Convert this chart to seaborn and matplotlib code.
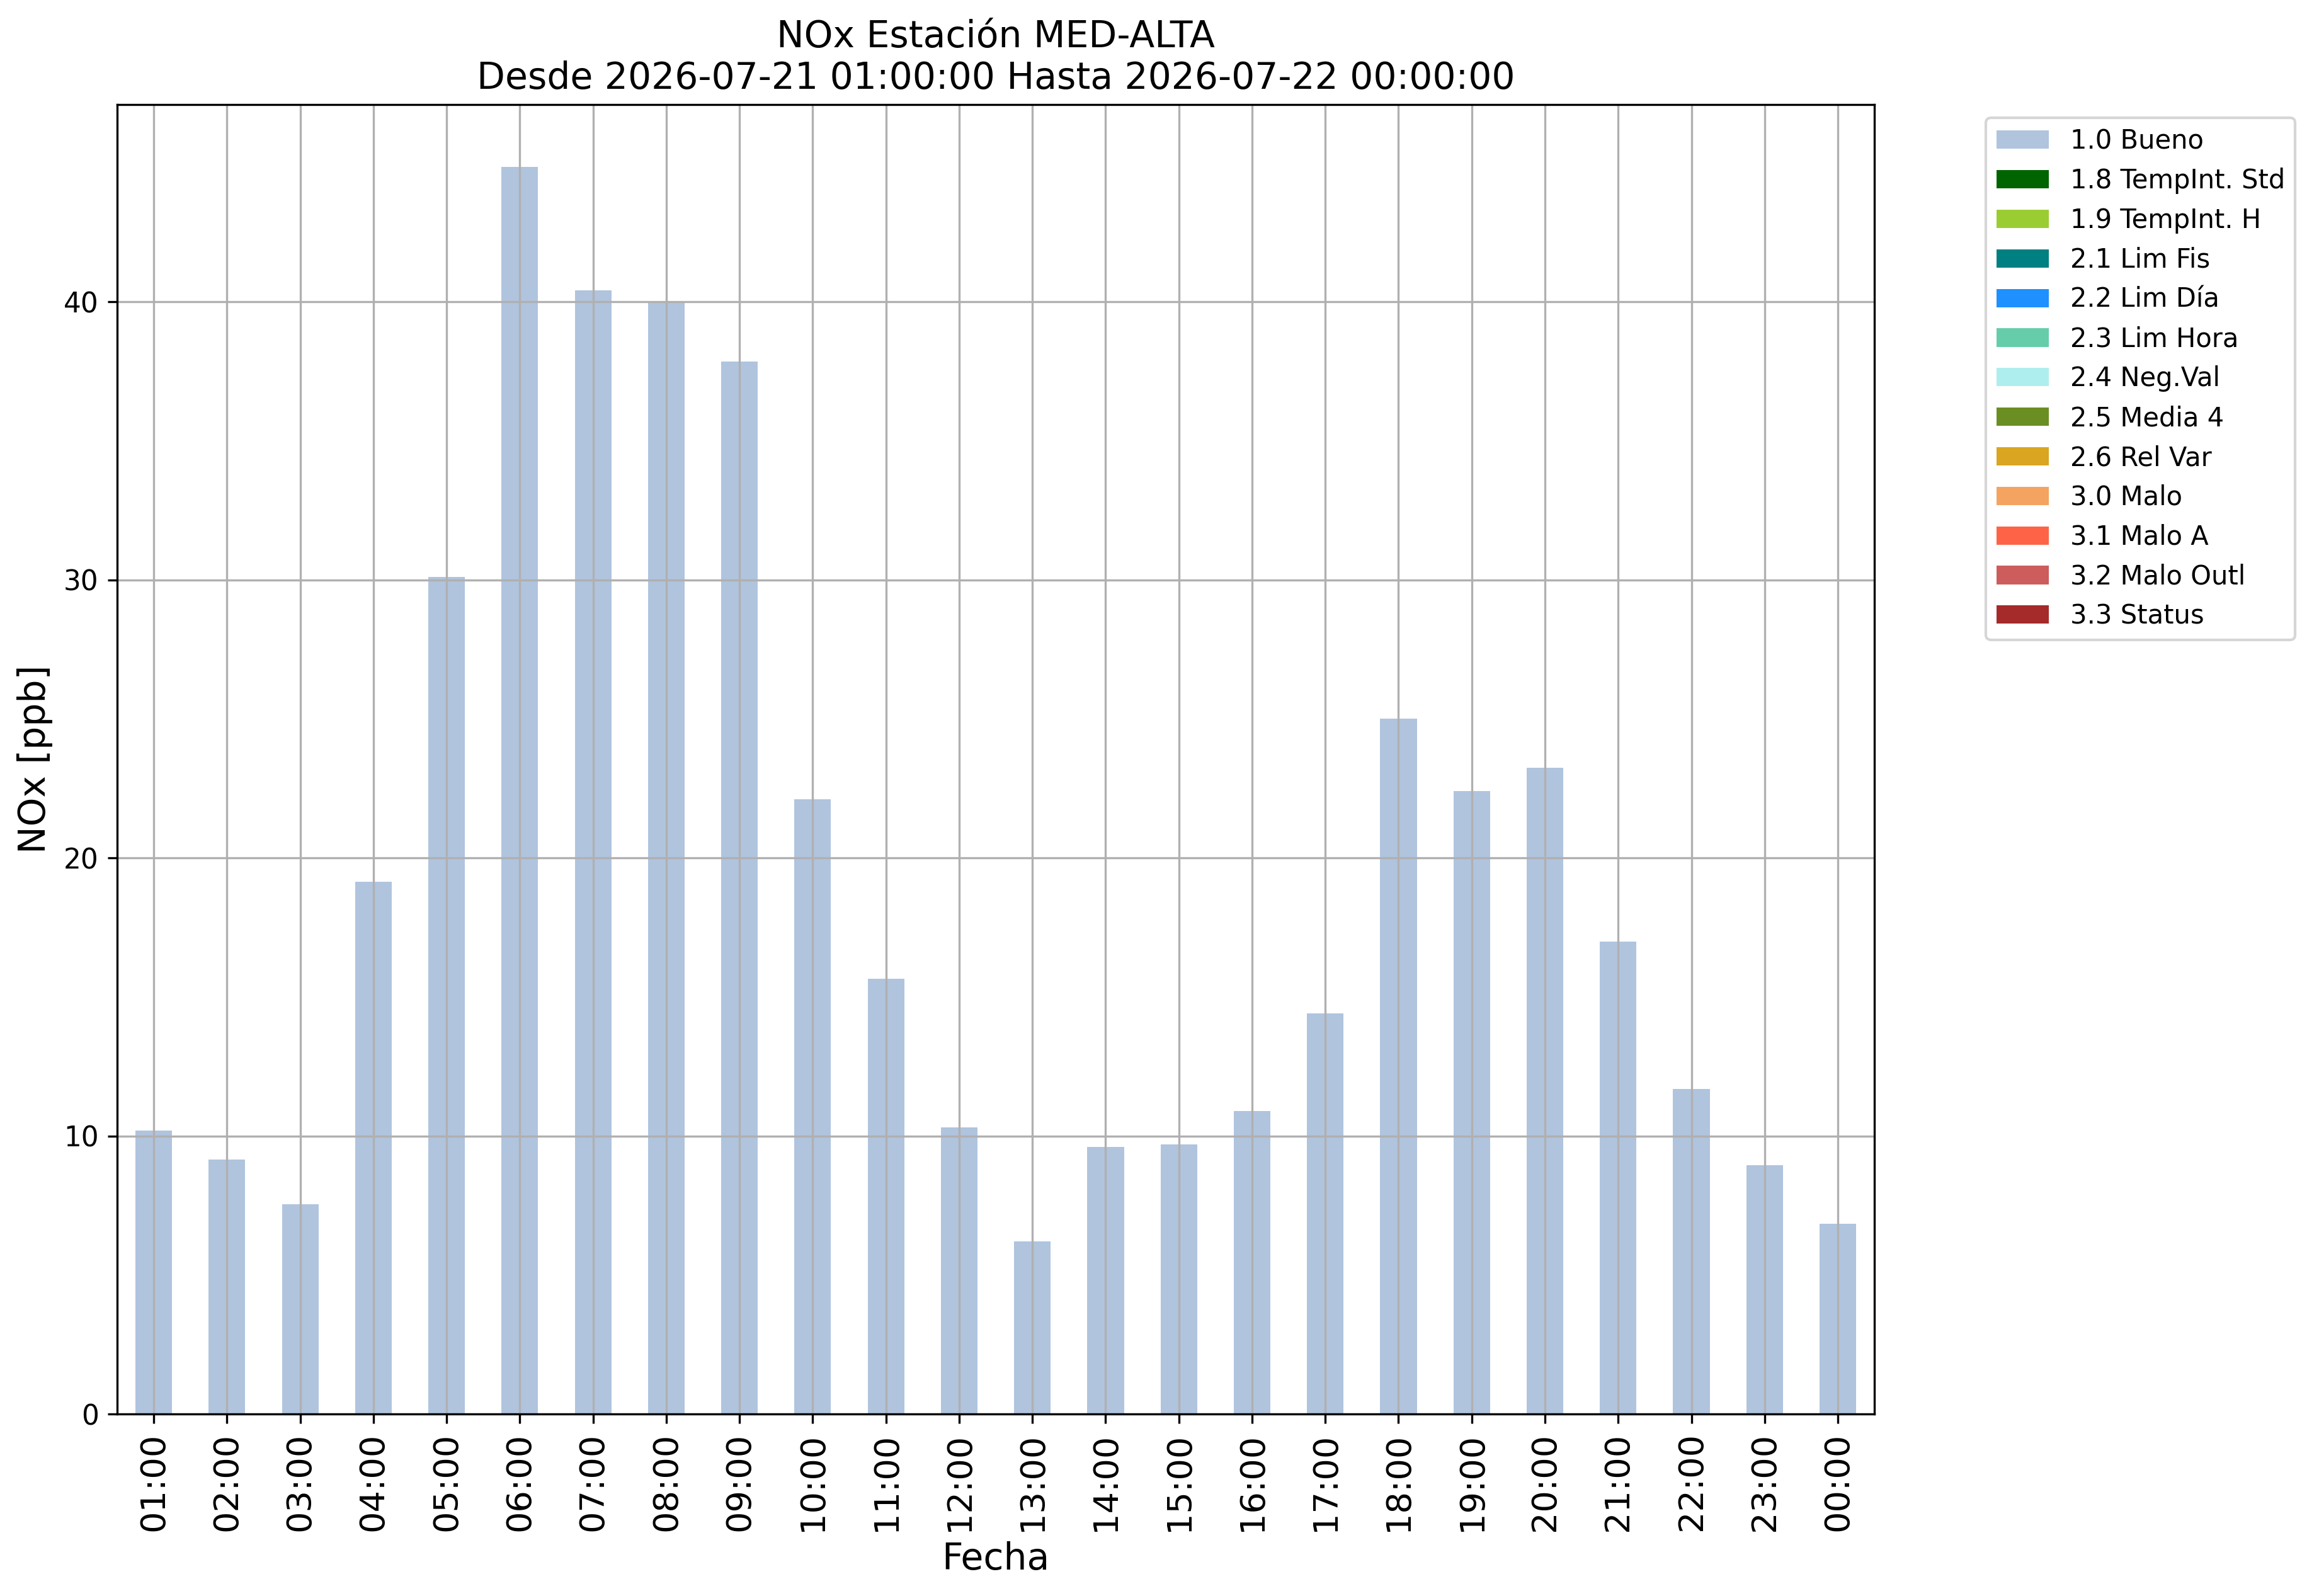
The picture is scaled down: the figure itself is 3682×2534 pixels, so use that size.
import matplotlib
matplotlib.use("Agg")
import matplotlib.pyplot as plt
import seaborn as sns
import pandas as pd
from matplotlib.patches import Patch

# hourly NOx values (ppb), station MED-ALTA
horas = ["01:00", "02:00", "03:00", "04:00", "05:00", "06:00", "07:00", "08:00",
         "09:00", "10:00", "11:00", "12:00", "13:00", "14:00", "15:00", "16:00",
         "17:00", "18:00", "19:00", "20:00", "21:00", "22:00", "23:00", "00:00"]
nox = [10.2, 9.15, 7.55, 19.15, 30.1, 44.85, 40.4, 40.0,
       37.85, 22.1, 15.65, 10.3, 6.2, 9.6, 9.7, 10.9,
       14.4, 25.0, 22.4, 23.25, 17.0, 11.7, 8.95, 6.85]

# quality flags shown in the legend
flags = ["1.0 Bueno", "1.8 TempInt. Std", "1.9 TempInt. H", "2.1 Lim Fis",
         "2.2 Lim Día", "2.3 Lim Hora", "2.4 Neg.Val", "2.5 Media 4",
         "2.6 Rel Var", "3.0 Malo", "3.1 Malo A", "3.2 Malo Outl", "3.3 Status"]
flag_colors = ["lightsteelblue", "darkgreen", "yellowgreen", "teal",
               "dodgerblue", "mediumaquamarine", "paleturquoise", "olivedrab",
               "goldenrod", "sandybrown", "tomato", "indianred", "brown"]

df = pd.DataFrame({"Fecha": horas, "NOx": nox})

fig, ax = plt.subplots(figsize=(3682 / 300, 2534 / 300), dpi=300)
fig.subplots_adjust(left=0.0505, right=0.8083, top=0.9345, bottom=0.114)

sns.barplot(data=df, x="Fecha", y="NOx", color=flag_colors[0], saturation=1,
            width=0.5, linewidth=0, ax=ax)

ax.grid(True)  # barplot switches the x grid off
ax.set_axisbelow("line")

ax.set_title("NOx Estación MED-ALTA\nDesde 2026-07-21 01:00:00 Hasta 2026-07-22 00:00:00",
             fontsize=14)
ax.set_xlabel("Fecha", fontsize=14)
ax.set_ylabel("NOx [ppb]", fontsize=14)
ax.tick_params(axis="x", labelsize=13, labelrotation=90)
ax.tick_params(axis="y", labelsize=10.5)

handles = [Patch(facecolor=c, label=l) for l, c in zip(flags, flag_colors)]
ax.legend(handles=handles, bbox_to_anchor=(1.056, 1), loc="upper left", fontsize=10)

fig.savefig("out.png", dpi=300)
